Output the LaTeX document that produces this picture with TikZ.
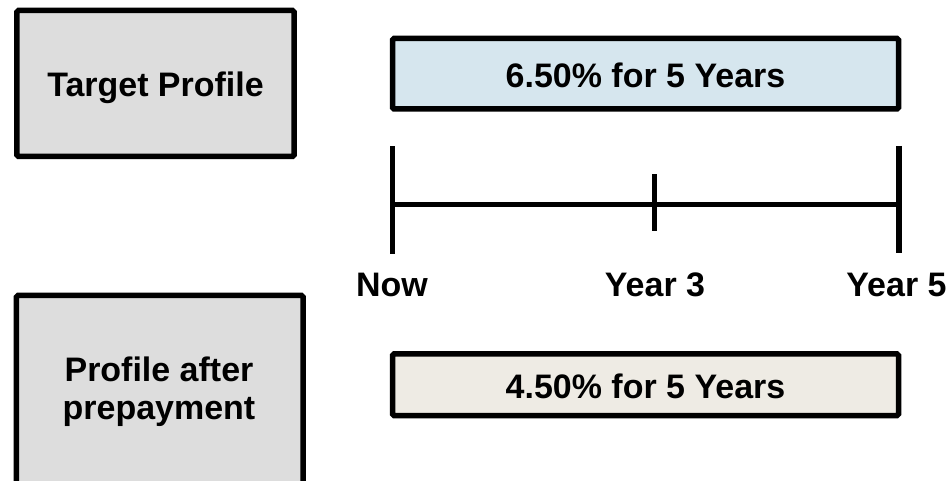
\documentclass[tikz,border=0pt]{standalone}
\usepackage{fontspec}
\setmainfont{Liberation Sans}
\definecolor{boxgray}{RGB}{221,221,221}
\definecolor{barblue}{RGB}{214,230,238}
\definecolor{barbeige}{RGB}{238,235,228}
\begin{document}
\begin{tikzpicture}[x=1bp,y=-1bp,
  frame/.style={draw=black,line width=5.5bp,rounded corners=1.5bp,inner sep=0pt},
  lbl/.style={font=\fontsize{34.1}{39}\selectfont\bfseries,inner sep=0pt,anchor=base},
  tl/.style={line width=5.5bp}]
\useasboundingbox (0,0) rectangle (952,481);
\clip (0,0) rectangle (952,481);
% left boxes
\node[frame,fill=boxgray,minimum width=277bp,minimum height=146bp] (tpbox) at (155.5,83.5) {};
\node[frame,fill=boxgray,minimum width=286.5bp,minimum height=244.5bp] (pabox) at (159.75,417.75) {};
\node[lbl] (tptext) at (155.5,96.7) {Target Profile};
\node[lbl,align=center] (patext1) at (159,381.7) {Profile after};
\node[lbl,align=center] (patext2) at (159,419.5) {prepayment};
% bars
\node[frame,fill=barblue,minimum width=506bp,minimum height=70.5bp] (bar1) at (645.5,73.75) {};
\node[lbl] (bar1text) at (645.5,88) {6.50\% for 5 Years};
\node[frame,fill=barbeige,minimum width=506bp,minimum height=61.5bp] (bar2) at (645.5,384.75) {};
\node[lbl] (bar2text) at (645.5,398) {4.50\% for 5 Years};
% timeline
\coordinate (nowtop) at (392.5,146.5);
\coordinate (nowbot) at (392.5,254);
\coordinate (y3top) at (654.5,174.5);
\coordinate (y3bot) at (654.5,231);
\coordinate (y5top) at (899,146);
\coordinate (y5bot) at (899,253);
\coordinate (lineL) at (392.5,204.5);
\coordinate (lineR) at (899,204.5);
\draw[tl] (lineL) -- (lineR);
\draw[tl] (nowtop) -- (nowbot);
\draw[tl] (y3top) -- (y3bot);
\draw[tl] (y5top) -- (y5bot);
\node[lbl] (now) at (392,296.7) {Now};
\node[lbl] (year3) at (655,296.7) {Year 3};
\node[lbl] (year5) at (896.5,296.7) {Year 5};
\end{tikzpicture}
\end{document}
